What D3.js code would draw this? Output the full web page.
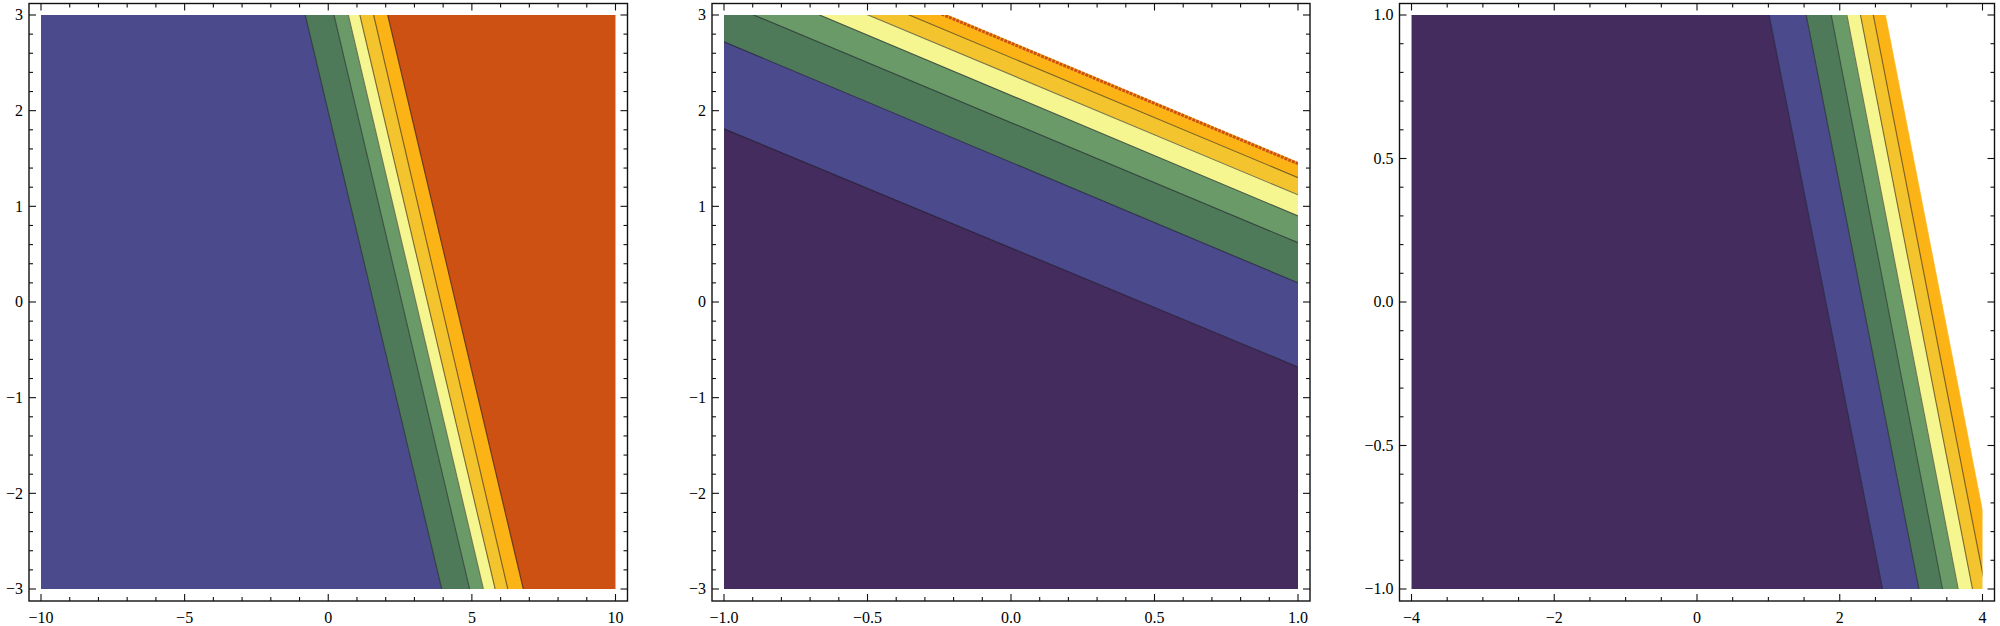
<!DOCTYPE html>
<html>
<head>
<meta charset="utf-8">
<script src="https://cdn.jsdelivr.net/npm/d3@7"></script>
<style>
  html, body { margin: 0; padding: 0; background: #ffffff; }
  svg { display: block; }
  text { font-family: "Liberation Serif", "Times New Roman", serif; }
</style>
</head>
<body>
<svg id="chart" width="2000" height="626"></svg>
<script>
// ---------------- data ----------------
// Palette of contour bands, low -> high
const bandColors = {
  purple:  "#442d5e",
  blue:    "#4b4a8c",
  dkgreen: "#4f7a59",
  mdgreen: "#6a9a68",
  yellow:  "#f6f691",
  gold:    "#f4c42e",
  orange:  "#fcb316",
  red:     "#cd5112"
};

// Panel 1: x in [-10,10], y in [-3,3]; boundaries given as x at y=3 and x at y=-3
const p1XTicks = [-10, -5, 0, 5, 10];
const p1YTicks = [-3, -2, -1, 0, 1, 2, 3];
const p1XAtTop    = [-0.80, 0.20, 0.70, 1.10, 1.58, 2.07];
const p1XAtBottom = [ 3.95, 4.92, 5.40, 5.81, 6.25, 6.79];
const p1Bands = ["blue", "dkgreen", "mdgreen", "yellow", "gold", "orange", "red"];

// Panel 2: x in [-1,1], y in [-3,3]; boundaries given as y at x=-1 and y at x=1 (top to bottom)
const p2XTicks = [-1.0, -0.5, 0.0, 0.5, 1.0];
const p2YTicks = [-3, -2, -1, 0, 1, 2, 3];
const p2YAtLeft  = [3.98, 3.81, 3.63, 3.42, 3.13, 2.72, 1.81];
const p2YAtRight = [1.46, 1.30, 1.12, 0.90, 0.62, 0.20, -0.68];
const p2Bands = [null, "orange", "gold", "yellow", "mdgreen", "dkgreen", "blue", "purple"];

// Panel 3: x in [-4,4], y in [-1,1]; boundaries given as x at y=1 and x at y=-1
const p3XTicks = [-4, -2, 0, 2, 4];
const p3YTicks = [-1.0, -0.5, 0.0, 0.5, 1.0];
const p3XAtTop    = [1.01, 1.53, 1.88, 2.10, 2.29, 2.47, 2.64];
const p3XAtBottom = [2.60, 3.11, 3.44, 3.66, 3.86, 4.045, 4.215];
const p3Bands = ["purple", "blue", "dkgreen", "mdgreen", "yellow", "gold", "orange", null];

// ---------------- drawing ----------------
const svg = d3.select("#chart");
const fmtInt = d => (d < 0 ? "\u2212" : "") + Math.abs(d);
const fmt1 = d => (d < 0 ? "\u2212" : "") + Math.abs(d).toFixed(1);

function drawPanel(cfg, idx) {
  const x = d3.scaleLinear().domain(cfg.xDomain).range([cfg.left, cfg.right]);
  const y = d3.scaleLinear().domain(cfg.yDomain).range([cfg.bottom, cfg.top]);
  const g = svg.append("g");
  const clipId = "clip" + idx;
  g.append("clipPath").attr("id", clipId)
    .append("rect")
    .attr("x", cfg.left).attr("y", cfg.top)
    .attr("width", cfg.right - cfg.left).attr("height", cfg.bottom - cfg.top);

  const [x0, x1] = cfg.xDomain, [y0, y1] = cfg.yDomain;
  let boundaries, edges;
  if (cfg.orient === "v") {
    boundaries = cfg.a.map((v, i) => [[v, y1], [cfg.b[i], y0]]);
    edges = [[[x0, y1], [x0, y0]], ...boundaries, [[x1, y1], [x1, y0]]];
  } else {
    boundaries = cfg.a.map((v, i) => [[x0, v], [x1, cfg.b[i]]]);
    edges = [[[x0, y1], [x1, y1]], ...boundaries, [[x0, y0], [x1, y0]]];
  }
  const line = d3.line().x(d => x(d[0])).y(d => y(d[1]));
  const polys = cfg.bands.map((c, k) => ({ color: c, pts: edges[k].concat(edges[k + 1].slice().reverse()) }))
    .filter(p => p.color);

  const plot = g.append("g").attr("clip-path", `url(#${clipId})`);
  plot.selectAll("path.band").data(polys).join("path")
    .attr("class", "band")
    .attr("d", p => line(p.pts) + "Z")
    .attr("fill", p => bandColors[p.color])
    .attr("stroke", p => bandColors[p.color])
    .attr("stroke-width", 0.6);

  const lineData = boundaries.map((b, i) => ({ b, i })).filter(d => !(cfg.noLine || []).includes(d.i));
  plot.selectAll("path.cline").data(lineData).join("path")
    .attr("class", "cline")
    .attr("d", d => line(d.b))
    .attr("fill", "none")
    .attr("stroke", "rgba(20,20,30,0.55)")
    .attr("stroke-width", 1.1);

  if (cfg.redEdge !== undefined) {
    const b = boundaries[cfg.redEdge];
    plot.append("path")
      .attr("d", line(b))
      .attr("transform", "translate(0,1.4)")
      .attr("fill", "none")
      .attr("stroke", bandColors.red)
      .attr("stroke-width", 3)
      .attr("stroke-dasharray", "3,1");
  }

  // frame
  const fx0 = cfg.left - 12, fx1 = cfg.right + 12, fy0 = cfg.top - 11.5, fy1 = cfg.bottom + 12;
  g.append("rect")
    .attr("x", fx0).attr("y", fy0).attr("width", fx1 - fx0).attr("height", fy1 - fy0)
    .attr("fill", "none").attr("stroke", "#111").attr("stroke-width", 1.4);

  // ticks (inward from frame, all four sides)
  const majLen = 7, minLen = 4;
  const xMinor = d3.range(x0, x1 + 1e-9, cfg.xMinorStep).filter(v => !cfg.xTicks.some(t => Math.abs(t - v) < 1e-6));
  const yMinor = d3.range(y0, y1 + 1e-9, cfg.yMinorStep).filter(v => !cfg.yTicks.some(t => Math.abs(t - v) < 1e-6));
  const xt = cfg.xTicks.map(v => ({ v, len: majLen })).concat(xMinor.map(v => ({ v, len: minLen })));
  const yt = cfg.yTicks.map(v => ({ v, len: majLen })).concat(yMinor.map(v => ({ v, len: minLen })));
  const tg = g.append("g").attr("stroke", "#111").attr("stroke-width", 1.1);
  tg.selectAll("line.xb").data(xt).join("line").attr("class", "xb")
    .attr("x1", d => x(d.v)).attr("x2", d => x(d.v)).attr("y1", fy1).attr("y2", d => fy1 - d.len);
  tg.selectAll("line.xt").data(xt).join("line").attr("class", "xt")
    .attr("x1", d => x(d.v)).attr("x2", d => x(d.v)).attr("y1", fy0).attr("y2", d => fy0 + d.len);
  tg.selectAll("line.yl").data(yt).join("line").attr("class", "yl")
    .attr("y1", d => y(d.v)).attr("y2", d => y(d.v)).attr("x1", fx0).attr("x2", d => fx0 + d.len);
  tg.selectAll("line.yr").data(yt).join("line").attr("class", "yr")
    .attr("y1", d => y(d.v)).attr("y2", d => y(d.v)).attr("x1", fx1).attr("x2", d => fx1 - d.len);

  // labels
  g.selectAll("text.xl").data(cfg.xTicks).join("text").attr("class", "xl")
    .attr("x", d => x(d)).attr("y", 623)
    .attr("text-anchor", "middle").attr("font-size", 16).attr("fill", "#000")
    .text(cfg.xFmt);
  g.selectAll("text.ylab").data(cfg.yTicks).join("text").attr("class", "ylab")
    .attr("x", fx0 - 6).attr("y", d => y(d)).attr("dy", "0.34em")
    .attr("text-anchor", "end").attr("font-size", 16).attr("fill", "#000")
    .text(cfg.yFmt);
}

const plotTop = 15, plotBottom = 589;
drawPanel({
  orient: "v", xDomain: [-10, 10], yDomain: [-3, 3], left: 41, right: 615.5, top: plotTop, bottom: plotBottom,
  a: p1XAtTop, b: p1XAtBottom, bands: p1Bands,
  xTicks: p1XTicks, yTicks: p1YTicks, xMinorStep: 1, yMinorStep: 0.2, xFmt: fmtInt, yFmt: fmtInt
}, 1);
drawPanel({
  orient: "h", xDomain: [-1, 1], yDomain: [-3, 3], left: 724, right: 1298, top: plotTop, bottom: plotBottom,
  a: p2YAtLeft, b: p2YAtRight, bands: p2Bands, noLine: [0], redEdge: 0,
  xTicks: p2XTicks, yTicks: p2YTicks, xMinorStep: 0.1, yMinorStep: 0.2, xFmt: fmt1, yFmt: fmtInt
}, 2);
drawPanel({
  orient: "v", xDomain: [-4, 4], yDomain: [-1, 1], left: 1411.5, right: 1982.5, top: plotTop, bottom: plotBottom,
  a: p3XAtTop, b: p3XAtBottom, bands: p3Bands, noLine: [6],
  xTicks: p3XTicks, yTicks: p3YTicks, xMinorStep: 0.5, yMinorStep: 0.1, xFmt: fmtInt, yFmt: fmt1
}, 3);
</script>
</body>
</html>
